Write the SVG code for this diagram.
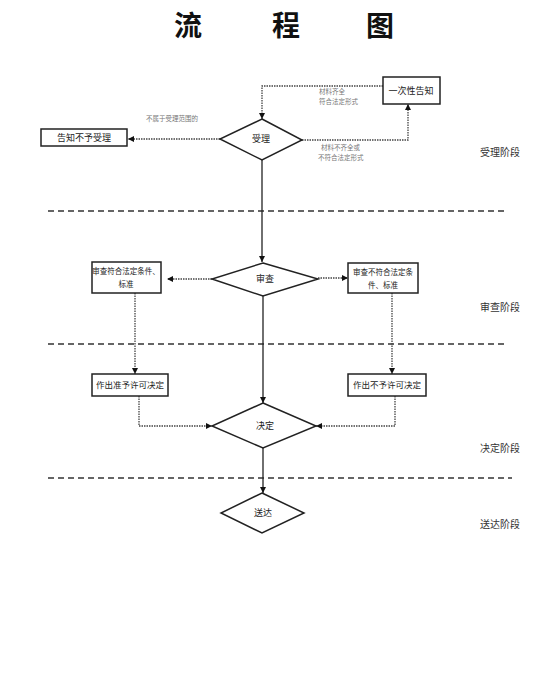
<svg xmlns="http://www.w3.org/2000/svg" width="557" height="681" viewBox="0 0 557 681">
<style>
text{font-family:"Noto Sans CJK SC","Noto Sans CJK JP",sans-serif;fill:#222}
.title{font-size:28px;font-weight:bold;fill:#111}
.n{fill:#fff;stroke:#222;stroke-width:1.5}
.t{font-size:9px;text-anchor:middle}
.b{font-size:7.5px;text-anchor:middle}
.s{font-size:6.5px;fill:#777}
.st{font-size:10px;text-anchor:middle;fill:#333}
.solid{fill:none;stroke:#222;stroke-width:1.3}
.dot{fill:none;stroke:#444;stroke-width:1.3;stroke-dasharray:1.5 1}
.sep{fill:none;stroke:#333;stroke-width:1.3;stroke-dasharray:6 4}
</style>
<defs>
<marker id="ah" viewBox="0 0 10 10" refX="10" refY="5" markerWidth="6" markerHeight="6" orient="auto" markerUnits="userSpaceOnUse">
<path d="M0,0 L10,5 L0,10 z" fill="#111"/>
</marker>
</defs>
<rect width="557" height="681" fill="#fff"/>
<g id="title">
<text class="title" x="188" y="36" text-anchor="middle">流</text>
<text class="title" x="286" y="36" text-anchor="middle">程</text>
<text class="title" x="380" y="36" text-anchor="middle">图</text>
</g>
<g id="separators">
<line class="sep" x1="48" y1="211" x2="504" y2="211"/>
<line class="sep" x1="48" y1="344" x2="504" y2="344"/>
<line class="sep" x1="48" y1="478" x2="512" y2="478"/>
</g>
<g id="stages">
<text class="st" x="500" y="156">受理阶段</text>
<text class="st" x="500" y="311">审查阶段</text>
<text class="st" x="500" y="452">决定阶段</text>
<text class="st" x="500" y="528">送达阶段</text>
</g>
<g id="connectors">
<path class="solid" d="M262,160 V262" marker-end="url(#ah)"/>
<path class="solid" d="M263,296 V403" marker-end="url(#ah)"/>
<path class="solid" d="M263,448 V493" marker-end="url(#ah)"/>
<path class="dot" d="M220,139 H128" marker-end="url(#ah)"/>
<path class="dot" d="M383,86 H262 V119" marker-end="url(#ah)"/>
<path class="dot" d="M302,140 H408 V104" marker-end="url(#ah)"/>
<path class="dot" d="M212,279 H167" marker-end="url(#ah)"/>
<path class="dot" d="M318,278 H348" marker-end="url(#ah)"/>
<path class="dot" d="M135,293 V374" marker-end="url(#ah)"/>
<path class="dot" d="M392,293 V374" marker-end="url(#ah)"/>
<path class="dot" d="M139,396 V426 H212" marker-end="url(#ah)"/>
<path class="dot" d="M395,396 V426 H316" marker-end="url(#ah)"/>
<text class="s" x="146" y="121">不属于受理范围的</text>
<text class="s" x="319" y="94">材料齐全</text>
<text class="s" x="319" y="104">符合法定形式</text>
<text class="s" x="321" y="150">材料不齐全或</text>
<text class="s" x="318" y="160">不符合法定形式</text>
</g>
<g id="shouli">
<polygon class="n" points="262,119 302,140 262,160 220,139"/>
<text class="t" x="261" y="142">受理</text>
</g>
<g id="gaozhi-buyu">
<rect class="n" x="41" y="129" width="86" height="17"/>
<text class="t" x="84" y="141">告知不予受理</text>
</g>
<g id="yicixing">
<rect class="n" x="383" y="77" width="57" height="27"/>
<text class="t" x="411" y="94">一次性告知</text>
</g>
<g id="shencha">
<polygon class="n" points="263,263 318,279 263,296 212,279"/>
<text class="t" x="265" y="282">审查</text>
</g>
<g id="fuhe">
<rect class="n" x="92" y="262" width="69" height="31"/>
<text class="b" x="126" y="274">审查符合法定条件、</text>
<text class="b" x="126" y="287">标准</text>
</g>
<g id="bufuhe">
<rect class="n" x="348" y="263" width="70" height="30"/>
<text class="b" x="383" y="275">审查不符合法定条</text>
<text class="b" x="383" y="288">件、标准</text>
</g>
<g id="zhunyu">
<rect class="n" x="92" y="374" width="76" height="22"/>
<text class="b" x="130" y="388" style="font-size:8.5px">作出准予许可决定</text>
</g>
<g id="buyu">
<rect class="n" x="348" y="374" width="78" height="22"/>
<text class="b" x="387" y="388" style="font-size:8.5px">作出不予许可决定</text>
</g>
<g id="jueding">
<polygon class="n" points="263,403 316,426 263,448 212,426"/>
<text class="t" x="265" y="429">决定</text>
</g>
<g id="songda">
<polygon class="n" points="262,493 304,513 262,533 221,513"/>
<text class="t" x="263" y="516">送达</text>
</g>
</svg>
